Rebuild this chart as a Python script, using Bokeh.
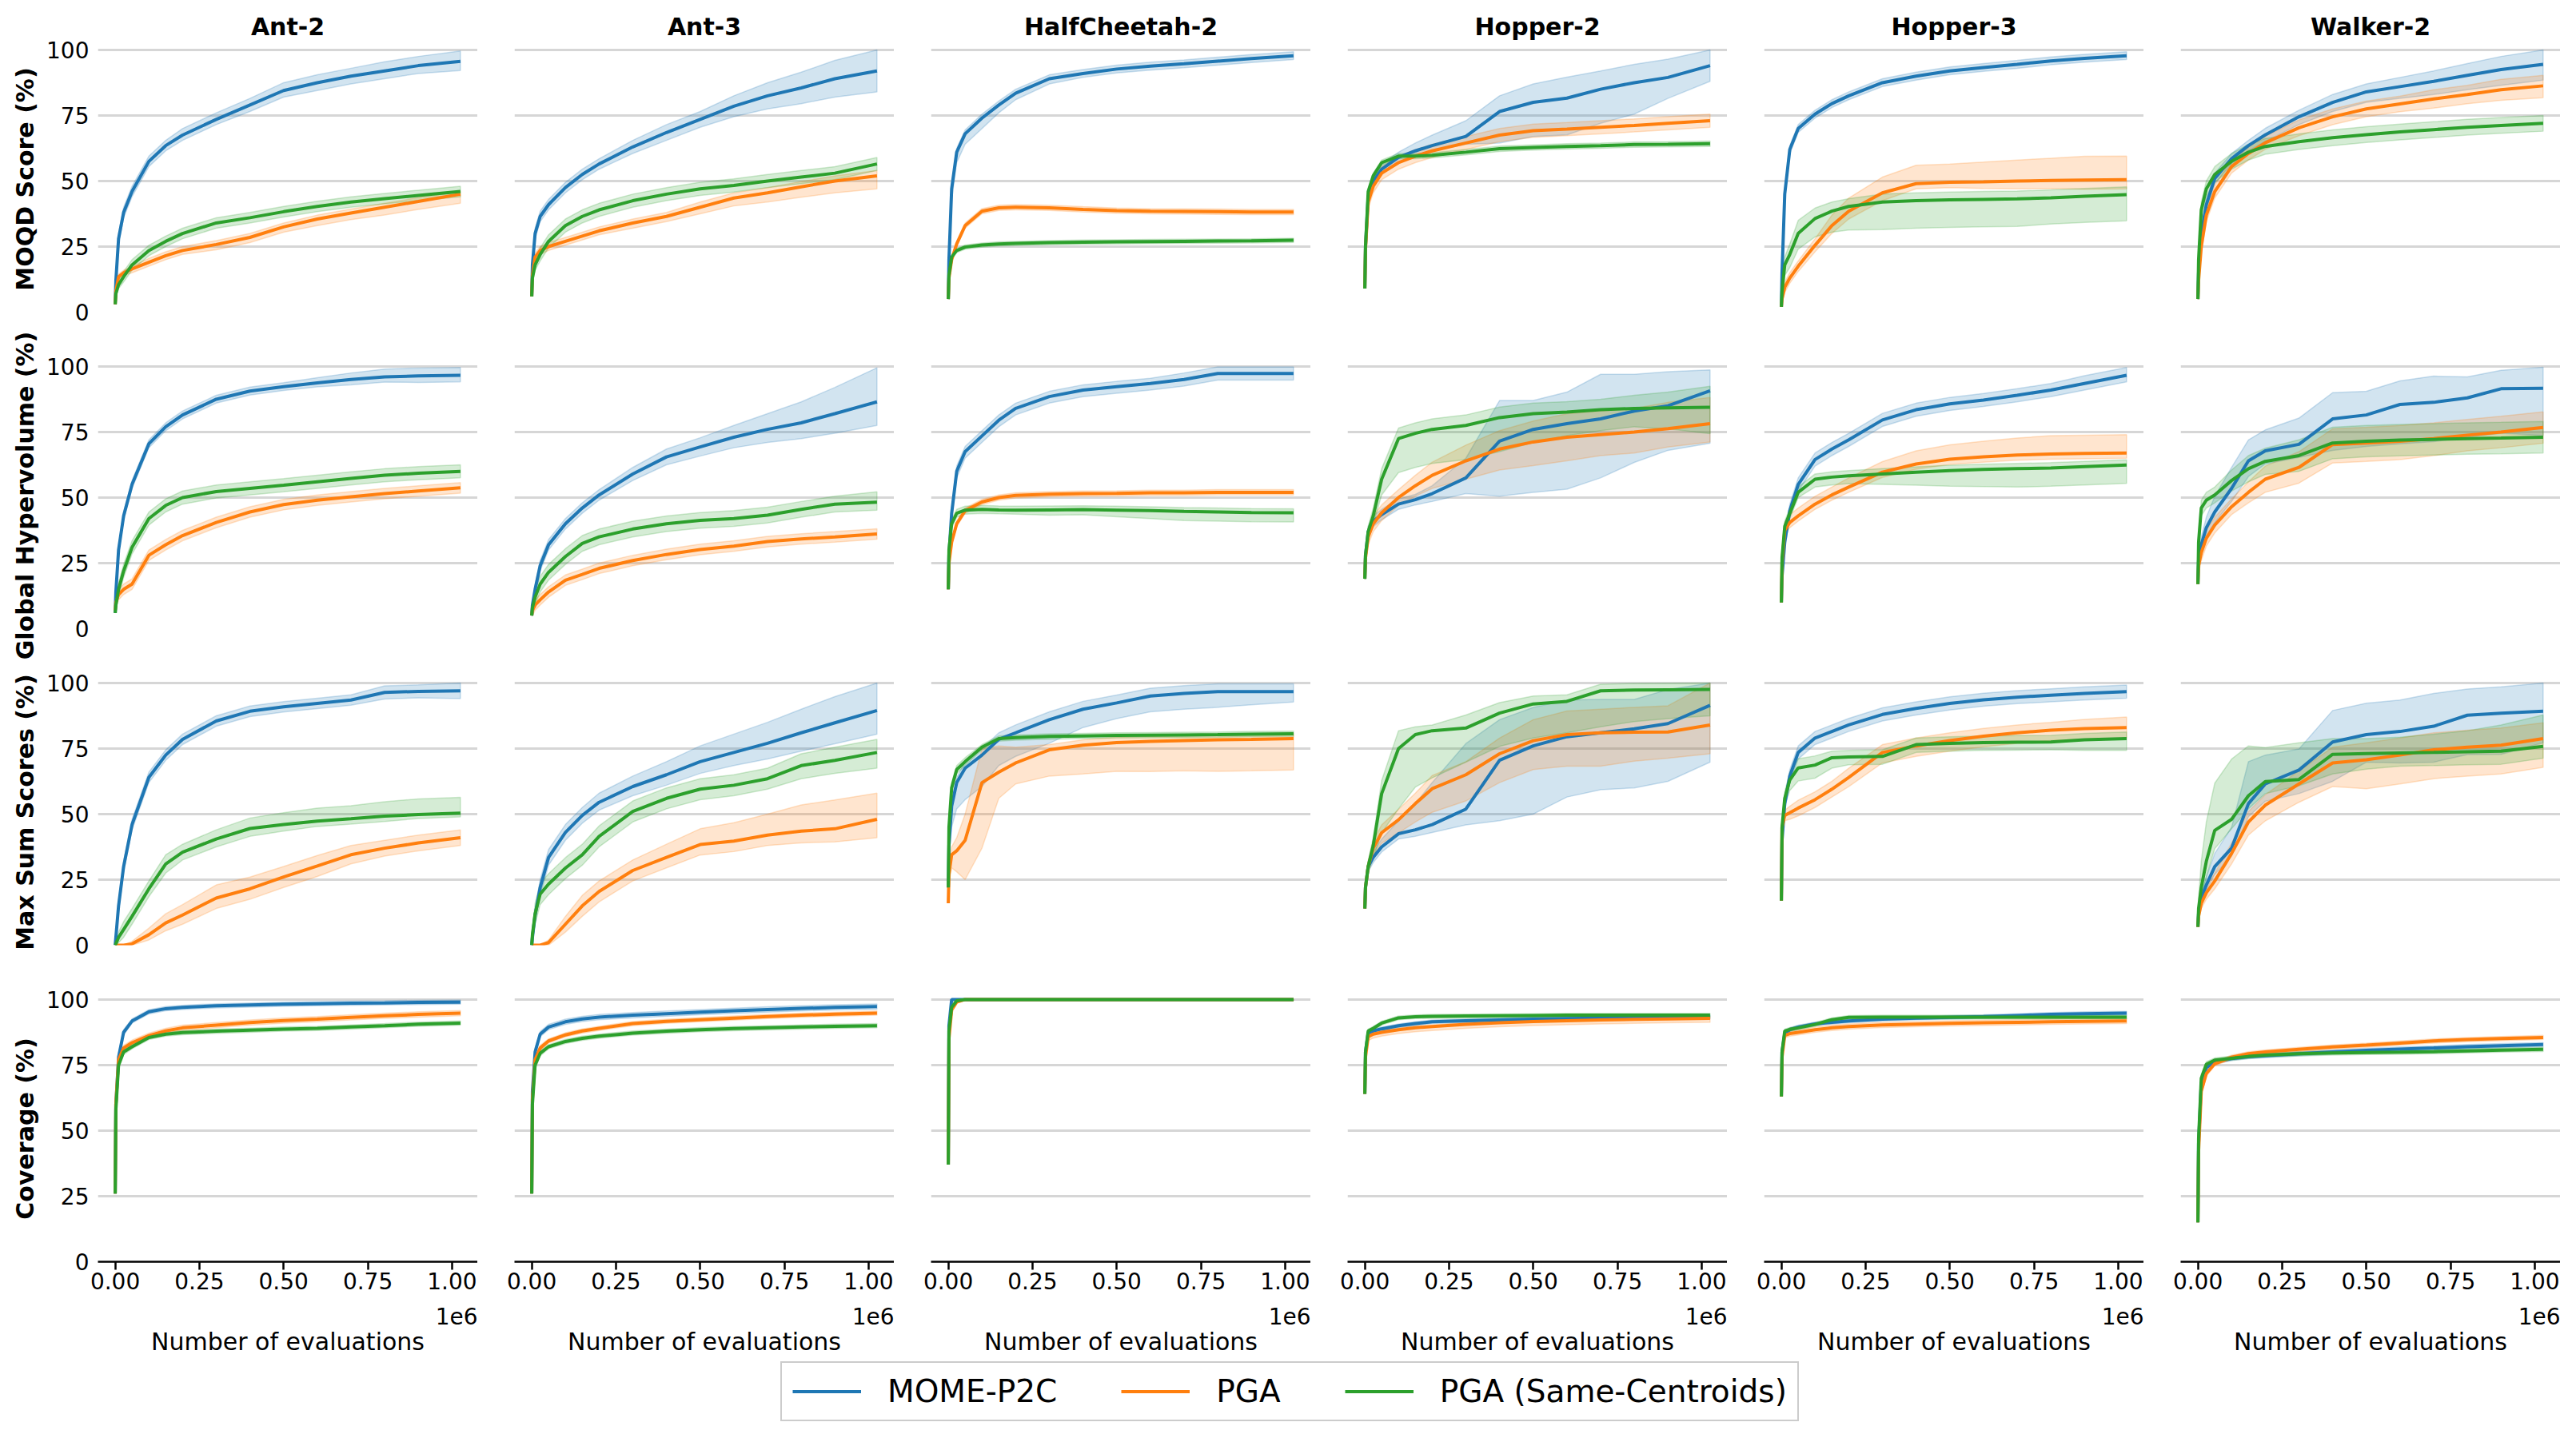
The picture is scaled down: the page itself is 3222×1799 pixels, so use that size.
import math
from bokeh.plotting import figure
from bokeh.models import Range1d, FixedTicker, Label, Legend, LegendItem
from bokeh.layouts import column, row
from bokeh.embed import file_html
from bokeh.resources import INLINE

# ---------------- data ----------------
X = [0, 2000, 10000, 25000, 50000, 100000, 150000, 200000, 300000, 400000,
     500000, 600000, 700000, 800000, 900000, 1025000]

ENVS = ["Ant-2", "Ant-3", "HalfCheetah-2", "Hopper-2", "Hopper-3", "Walker-2"]
ENV_KEYS = ["ANT2", "ANT3", "HC2", "HOP2", "HOP3", "WALK2"]
METRIC_LABELS = ["MOQD Score (%)", "Global Hypervolume (%)", "Max Sum Scores (%)", "Coverage (%)"]
METRIC_KEYS = ["MOQD", "GHV", "MSS", "COV"]
METHODS = ["MOME-P2C", "PGA", "PGA (Same-Centroids)"]
METHOD_KEYS = ["P2C", "PGA", "PGASC"]
COLORS = ["#1f77b4", "#ff7f0e", "#2ca02c"]
Y_TICKS = [0, 25, 50, 75, 100]
X_TICKS = [0, 250000, 500000, 750000, 1000000]
X_TICK_LABELS = ["0.00", "0.25", "0.50", "0.75", "1.00"]
X_LABEL = "Number of evaluations"
X_OFFSET_TEXT = "1e6"

# ===== MOQD Score =====
MOQD_ANT2_P2C = [3, 12, 28, 38, 46, 57.5, 63.5, 67.5, 73.5, 79, 84.5, 87.5, 90, 92, 94, 95.6]
MOQD_ANT2_P2C_LO = [0, 1, 2, 2, 2, 2, 2, 2, 2, 2.5, 2.5, 3, 3, 3, 3, 3.5]
MOQD_ANT2_P2C_HI = [0, 1, 2, 2, 2, 2, 2, 2.5, 2.5, 2.5, 3, 3, 3, 3.5, 3.5, 4]
MOQD_ANT2_PGA = [3, 8, 13.5, 15, 16.5, 19, 21.5, 23.5, 25.8, 28.5, 32.5, 35.5, 37.8, 40, 42.2, 45]
MOQD_ANT2_PGA_LO = [0, 1, 1, 1, 1.5, 1.5, 1.5, 1.5, 2, 2, 2, 2.5, 2.5, 3, 3, 3.5]
MOQD_ANT2_PGA_HI = [0, 1, 1, 1, 1, 1.5, 1.5, 1.5, 1.5, 1.5, 1.5, 1.5, 1.5, 1.5, 1.5, 1]
MOQD_ANT2_PGASC = [3, 7, 10.5, 13.5, 18, 23.5, 27, 30, 34, 36, 38.3, 40.3, 42, 43.3, 44.5, 46]
MOQD_ANT2_PGASC_LO = [0, 1, 1.5, 2, 2, 2, 2, 2, 2, 2, 2, 2, 2, 2, 2, 2]
MOQD_ANT2_PGASC_HI = [0, 1, 1.5, 2, 2, 2, 2, 2, 2, 2, 2, 2, 2, 2, 2, 2]

MOQD_ANT3_P2C = [6, 18, 30, 36.5, 41, 47.5, 52.5, 56.5, 63, 68.5, 73.5, 78.5, 82.5, 85.5, 89, 92]
MOQD_ANT3_P2C_LO = [0, 1.5, 2, 2, 2, 2, 2, 2, 2.5, 3, 3, 4, 5, 6, 7, 8]
MOQD_ANT3_P2C_HI = [0, 1.5, 2, 2, 2, 2, 2, 2, 2.5, 3, 3, 4, 5, 6, 7, 8]
MOQD_ANT3_PGA = [6, 14, 21, 23.5, 25, 27, 29, 31, 34, 36.5, 40, 43.5, 45.5, 47.8, 50, 52]
MOQD_ANT3_PGA_LO = [0, 1, 1.5, 1.5, 1.5, 1.5, 1.5, 1.5, 2, 2, 2.5, 3, 3.5, 4, 4.5, 5]
MOQD_ANT3_PGA_HI = [0, 1, 1.5, 1.5, 1.5, 1.5, 1.5, 1.5, 1.5, 1.5, 2, 2, 2, 2, 2, 2]
MOQD_ANT3_PGASC = [6, 13, 18, 22, 27, 33, 36.5, 39, 42.5, 45, 47, 48.3, 50, 51.5, 53, 56.5]
MOQD_ANT3_PGASC_LO = [0, 1.5, 2, 2.5, 2.5, 2.5, 2.5, 2.5, 2.5, 2.5, 2.5, 2.5, 2.5, 2.5, 2.5, 2.5]
MOQD_ANT3_PGASC_HI = [0, 1.5, 2, 2.5, 2.5, 2.5, 2.5, 2.5, 2.5, 2.5, 2.5, 2.5, 2.5, 2.5, 2.5, 2.5]

MOQD_HC2_P2C = [5, 20, 47, 61, 68, 74, 79, 83.5, 89, 91, 92.7, 93.8, 94.7, 95.7, 96.7, 97.8]
MOQD_HC2_P2C_LO = [0, 2, 4, 4, 4, 4, 3, 2.5, 2, 1.5, 1.5, 1.5, 1.5, 1.5, 1.5, 1.5]
MOQD_HC2_P2C_HI = [0, 1, 1.5, 1.5, 1.5, 1.5, 1.5, 1.5, 1.5, 1.5, 1.5, 1.5, 1.5, 1.5, 1.5, 1.5]
MOQD_HC2_PGA = [5, 13, 20, 26, 33, 38.5, 39.8, 40, 39.8, 39.2, 38.7, 38.5, 38.4, 38.3, 38.2, 38.2]
MOQD_HC2_PGA_LO = [0, 1, 1, 1, 1, 1, 1, 1, 1, 1, 1, 1, 1, 1, 1, 1]
MOQD_HC2_PGA_HI = [0, 1, 1, 1, 1, 1, 1, 1, 1, 1, 1, 1, 1, 1, 1, 1]
MOQD_HC2_PGASC = [5, 14, 21, 23.5, 24.8, 25.6, 26, 26.2, 26.5, 26.7, 26.8, 26.9, 27, 27.1, 27.2, 27.4]
MOQD_HC2_PGASC_LO = [0, 0.8, 0.8, 0.8, 0.8, 0.8, 0.8, 0.8, 0.8, 0.8, 0.8, 0.8, 0.8, 0.8, 0.8, 0.8]
MOQD_HC2_PGASC_HI = [0, 0.8, 0.8, 0.8, 0.8, 0.8, 0.8, 0.8, 0.8, 0.8, 0.8, 0.8, 0.8, 0.8, 0.8, 0.8]

MOQD_HOP2_P2C = [9, 25, 44, 50, 54.5, 59, 61.5, 63.5, 67, 76.5, 80, 81.6, 85, 87.5, 89.5, 94]
MOQD_HOP2_P2C_LO = [0, 2, 2, 2, 2, 2, 2, 2, 3, 12, 13, 14, 13, 12, 8, 6]
MOQD_HOP2_P2C_HI = [0, 2, 2, 2, 2, 2, 3, 4, 6, 6, 7, 8, 7, 7, 7, 6]
MOQD_HOP2_PGA = [9, 24, 42, 48, 53, 57, 59.5, 61.5, 64.5, 67.5, 69.2, 69.8, 70.5, 71.2, 72, 73]
MOQD_HOP2_PGA_LO = [0, 2, 2.5, 2.5, 2.5, 2.5, 2.5, 2.5, 2.5, 2.5, 2.5, 2.5, 2.5, 2.5, 2.5, 2.5]
MOQD_HOP2_PGA_HI = [0, 2, 2.5, 2.5, 2.5, 2.5, 2.5, 2.5, 2.5, 2.5, 2.5, 2.5, 2.5, 2.5, 2.5, 2.5]
MOQD_HOP2_PGASC = [9, 25, 46, 52, 57, 59.5, 59.5, 59.8, 61, 62.3, 62.8, 63.2, 63.5, 63.9, 64, 64.2]
MOQD_HOP2_PGASC_LO = [0, 1, 1, 1, 1, 1, 1, 1, 1, 1, 1, 1, 1, 1, 1, 1]
MOQD_HOP2_PGASC_HI = [0, 1, 1, 1, 1, 1, 1, 1, 1, 1, 1, 1, 1, 1, 1, 1]

MOQD_HOP3_P2C = [2, 15, 45, 62, 70, 75.5, 79.5, 82.5, 87.5, 90, 92, 93.3, 94.5, 95.8, 96.8, 97.8]
MOQD_HOP3_P2C_LO = [0, 1.5, 1.5, 1.5, 1.5, 1.5, 1.5, 1.5, 1.5, 1.5, 1.5, 1.5, 1.5, 1.5, 1.5, 1.5]
MOQD_HOP3_P2C_HI = [0, 1.5, 1.5, 1.5, 1.5, 1.5, 1.5, 1.5, 1.5, 1.5, 1.5, 1.5, 1.5, 1.5, 1.5, 1.5]
MOQD_HOP3_PGA = [2, 5, 9.5, 13, 17.5, 25.5, 33, 38.5, 45.5, 49, 49.5, 49.7, 50, 50.2, 50.4, 50.5]
MOQD_HOP3_PGA_LO = [0, 1, 2, 2, 2, 2.5, 3, 3, 3, 2, 2, 2.5, 3, 3, 3.5, 3.5]
MOQD_HOP3_PGA_HI = [0, 1, 2, 2, 2, 2.5, 4, 5, 6, 7, 7, 7.5, 8, 8.5, 9, 9]
MOQD_HOP3_PGASC = [2, 8, 18, 22, 30, 35.7, 38.5, 40.3, 42, 42.5, 42.8, 43, 43.2, 43.6, 44.2, 44.8]
MOQD_HOP3_PGASC_LO = [0, 2, 4, 5, 6, 7, 8, 9, 10.5, 10.5, 10.5, 10.5, 10.5, 10, 10, 10]
MOQD_HOP3_PGASC_HI = [0, 2, 3, 4, 5, 4, 3.5, 3, 3, 3, 3, 3, 3, 3, 3, 3]

MOQD_WALK2_P2C = [5, 15, 30, 41, 51, 58.5, 63.5, 67.6, 74.5, 80, 84, 86, 88, 90.3, 92.5, 94.5]
MOQD_WALK2_P2C_LO = [0, 2, 2, 2, 2, 2, 2, 2.5, 3, 3.5, 4, 4.5, 5, 5.5, 6, 6]
MOQD_WALK2_P2C_HI = [0, 2, 2, 2, 2, 2, 2, 2.5, 2.5, 3, 3, 3.5, 4, 4.5, 5, 5.5]
MOQD_WALK2_PGA = [5, 12, 25, 37, 46, 55.5, 60.5, 64.6, 70.3, 74.5, 77.5, 79.4, 81.3, 83, 84.8, 86.3]
MOQD_WALK2_PGA_LO = [0, 2, 2.5, 2.5, 2.5, 2.5, 2.5, 2.5, 3, 3, 3, 3, 3.5, 3.5, 4, 4.5]
MOQD_WALK2_PGA_HI = [0, 2, 2.5, 2.5, 2.5, 2.5, 2.5, 2.5, 3, 3, 3, 3, 3.5, 3.5, 4, 4]
MOQD_WALK2_PGASC = [5, 20, 39, 47, 52.5, 57.5, 61, 63.2, 65, 66.5, 67.7, 68.7, 69.6, 70.5, 71.2, 72]
MOQD_WALK2_PGASC_LO = [0, 3, 3, 3, 3, 3, 3, 3, 3, 3, 3, 3, 3, 3, 3, 3]
MOQD_WALK2_PGASC_HI = [0, 3, 3, 3, 3, 3, 3, 3, 3, 3, 3, 3, 3, 3, 3, 3]

# ===== Global Hypervolume =====
GHV_ANT2_P2C = [6, 14, 30, 43, 55, 70.5, 77, 81.5, 87.5, 90.6, 92.3, 93.7, 95, 96, 96.4, 96.6]
GHV_ANT2_P2C_LO = [0, 1.5, 1.5, 1.5, 1.5, 1.5, 1.5, 1.5, 1.5, 1.5, 1.5, 1.5, 2, 2, 2.5, 2.5]
GHV_ANT2_P2C_HI = [0, 1.5, 1.5, 1.5, 1.5, 1.5, 1.5, 1.5, 1.5, 1.5, 1.5, 2, 2.5, 3, 3, 3]
GHV_ANT2_PGA = [7, 10, 13, 15, 17, 28, 32, 35.5, 40.5, 44.5, 47.3, 49, 50.3, 51.5, 52.5, 53.7]
GHV_ANT2_PGA_LO = [0, 2, 2, 2, 2, 2, 2, 2, 2, 2, 2, 2, 2, 2, 2, 2]
GHV_ANT2_PGA_HI = [0, 2, 2, 2, 2, 2, 2, 2, 2, 2, 2, 2, 2, 2, 2, 2]
GHV_ANT2_PGASC = [6, 9, 15, 22, 31, 42, 47, 50, 52.3, 53.5, 54.7, 56, 57.3, 58.5, 59.3, 60]
GHV_ANT2_PGASC_LO = [0, 2.5, 2.5, 2.5, 2.5, 2.5, 2.5, 2.5, 2.5, 2.5, 2.5, 2.5, 2.5, 2.5, 2.5, 2.5]
GHV_ANT2_PGASC_HI = [0, 2.5, 2.5, 2.5, 2.5, 2.5, 2.5, 2.5, 2.5, 2.5, 2.5, 2.5, 2.5, 2.5, 2.5, 2.5]

GHV_ANT3_P2C = [5, 9, 15, 24, 32, 40, 46, 51, 59, 65.5, 69.3, 73, 76, 78.5, 82, 86.5]
GHV_ANT3_P2C_LO = [0, 1, 1.5, 2, 2, 2, 2, 2, 2.5, 3, 3.5, 4, 5, 6, 7.5, 9]
GHV_ANT3_P2C_HI = [0, 1, 1.5, 2, 2, 2, 2, 2, 2.5, 3, 3.5, 4.5, 6, 8, 10, 13]
GHV_ANT3_PGA = [5, 7, 9, 11, 14, 18.5, 20.7, 23, 26, 28.3, 30.2, 31.5, 33.2, 34.2, 35, 36.1]
GHV_ANT3_PGA_LO = [0, 2, 2, 2, 2, 2, 2, 2, 2, 2, 2, 2, 2, 2, 2, 2]
GHV_ANT3_PGA_HI = [0, 2, 2, 2, 2, 2, 2, 2, 2, 2, 2, 2, 2, 2, 2, 2]
GHV_ANT3_PGASC = [5, 8, 12, 17, 21.5, 27.5, 32.5, 35, 38, 40, 41.3, 42, 43.3, 45.5, 47.5, 48.2]
GHV_ANT3_PGASC_LO = [0, 3, 3, 3, 3, 3, 3, 3, 3, 3, 3, 3, 3, 3, 3, 3]
GHV_ANT3_PGASC_HI = [0, 3, 3, 3, 3, 3, 3, 3, 3, 3, 3, 3, 3, 3, 3, 4]

GHV_HC2_P2C = [15, 28, 44, 60, 67.5, 73.5, 79.5, 84, 88.5, 91, 92.3, 93.5, 95, 97.3, 97.3, 97.3]
GHV_HC2_P2C_LO = [0, 2.5, 2.5, 2.5, 2.5, 2.5, 2.5, 2.5, 2.5, 2.5, 2.5, 2.5, 2.5, 2.5, 2.5, 2.5]
GHV_HC2_P2C_HI = [0, 2, 2, 2, 2, 2, 2, 2, 2, 2, 2, 2, 2.5, 2.5, 2.5, 2.5]
GHV_HC2_PGA = [15, 25, 33, 40, 45, 48.3, 50, 50.8, 51.3, 51.5, 51.6, 51.8, 51.8, 52, 52, 52]
GHV_HC2_PGA_LO = [0, 1, 1, 1, 1, 1, 1, 1, 1, 1, 1, 1, 1, 1, 1, 1]
GHV_HC2_PGA_HI = [0, 1, 1, 1, 1, 1, 1, 1, 1, 1, 1, 1, 1, 1, 1, 1]
GHV_HC2_PGASC = [15, 30, 40, 44, 45.2, 45.5, 45.3, 45.2, 45.3, 45.4, 45.2, 45, 44.7, 44.5, 44.3, 44.2]
GHV_HC2_PGASC_LO = [0, 1.5, 1.5, 1.5, 1.5, 1.5, 1.5, 1.5, 2, 2, 2.5, 3, 3.5, 3.5, 3.5, 3.5]
GHV_HC2_PGASC_HI = [0, 1.5, 1.5, 1.5, 1.5, 1.5, 1.5, 1.5, 1.5, 1.5, 1.5, 1.5, 1.5, 1.5, 1.5, 1.5]

GHV_HOP2_P2C = [19, 28, 37, 41, 43.5, 47.5, 49.2, 51.5, 57.5, 71.5, 76, 78.2, 80, 83, 85, 90.7]
GHV_HOP2_P2C_LO = [0, 2, 2, 2, 2, 2, 2, 3, 6, 21, 24, 25, 22.5, 19.6, 17, 20]
GHV_HOP2_P2C_HI = [0, 2, 2, 2, 2, 2, 2, 3, 7.5, 15.5, 11, 12, 17, 14, 13, 8]
GHV_HOP2_PGA = [19, 27, 35, 40, 44.2, 50, 54.5, 58.5, 64, 68.5, 71.2, 73, 74, 75, 76.3, 78.2]
GHV_HOP2_PGA_LO = [0, 3, 3, 3, 3, 3, 4, 5, 7, 8, 9, 9, 8, 8, 7, 7]
GHV_HOP2_PGA_HI = [0, 3, 3, 3, 3, 3, 4, 5, 6, 7, 8, 9, 9, 9, 10, 10]
GHV_HOP2_PGASC = [19, 28, 37, 43, 57, 72.5, 74.5, 76, 77.5, 80.5, 82, 82.6, 83.5, 84, 84.2, 84.4]
GHV_HOP2_PGASC_LO = [0, 2, 2, 3, 6, 13, 13, 13, 13, 13, 11, 9, 8, 7, 8, 10]
GHV_HOP2_PGASC_HI = [0, 2, 2, 3, 4, 4, 4, 4, 4, 4, 4, 4, 4, 5, 6, 8]

GHV_HOP3_P2C = [10, 20, 33, 45, 55, 64.5, 68.5, 72, 79.6, 83.5, 85.7, 87.2, 89, 91, 93.5, 96.6]
GHV_HOP3_P2C_LO = [0, 2.5, 2.5, 2.5, 2.5, 2.5, 2.5, 2.5, 2.5, 2.5, 2.5, 2.5, 2.5, 2.5, 2.5, 2.5]
GHV_HOP3_P2C_HI = [0, 2.5, 2.5, 2.5, 2.5, 2.5, 2.5, 2.5, 2.5, 2.5, 2.5, 2.5, 2.5, 2.5, 3, 3]
GHV_HOP3_PGA = [10, 25, 37.5, 40.5, 43, 47.5, 51, 54, 59.7, 62.8, 64.6, 65.5, 66.2, 66.6, 66.8, 67]
GHV_HOP3_PGA_LO = [0, 2, 2, 2, 2, 2, 2, 2, 2, 2, 2, 2, 2, 2, 2, 2]
GHV_HOP3_PGA_HI = [0, 2, 3, 3, 3, 3, 3, 3.5, 4, 5, 5.5, 6, 6.5, 7, 7, 7]
GHV_HOP3_PGASC = [10, 27, 39, 44, 52, 57, 57.8, 58.3, 59, 59.7, 60.3, 60.7, 61, 61.3, 61.8, 62.4]
GHV_HOP3_PGASC_LO = [0, 2, 2, 2, 2, 3, 3, 3, 4, 5, 6, 6.5, 7, 7, 7, 7]
GHV_HOP3_PGASC_HI = [0, 2, 2, 2, 2, 2, 2, 2, 2, 2, 2, 2, 2, 2, 2, 2]

GHV_WALK2_P2C = [17, 26, 32, 38.5, 44.5, 53.5, 64, 67.8, 70.3, 80, 81.5, 85.5, 86.3, 88, 91.5, 91.7]
GHV_WALK2_P2C_LO = [0, 3, 3, 3, 4, 5, 6, 5, 5, 12, 12, 15, 15, 15, 17, 18]
GHV_WALK2_P2C_HI = [0, 3, 3, 4, 6, 8, 8, 8, 10, 10, 9, 9, 10, 8, 7, 8]
GHV_WALK2_PGA = [17, 24, 29, 34.5, 39.5, 46.5, 52, 57, 61.5, 70.2, 70.8, 71.5, 72.5, 73.8, 75, 76.7]
GHV_WALK2_PGA_LO = [0, 3, 3, 3, 3, 3, 4, 5, 6, 7, 7, 7, 6.5, 6, 6, 6]
GHV_WALK2_PGA_HI = [0, 3, 3, 3, 3, 3, 4, 5, 6, 6, 6, 6, 6, 6, 6, 6]
GHV_WALK2_PGASC = [17, 33, 46, 49, 51, 56.5, 61, 63.8, 66, 70.8, 71.5, 71.9, 72.2, 72.5, 72.7, 73]
GHV_WALK2_PGASC_LO = [0, 3, 3, 3, 3, 4, 5, 5, 6, 6, 6, 6, 6, 6, 6, 6]
GHV_WALK2_PGASC_HI = [0, 3, 3, 3, 3, 4, 5, 5, 6, 6, 6, 6, 6, 6, 6, 6]

# ===== Max Sum Scores =====
MSS_ANT2_P2C = [0, 3, 15, 30, 46, 64, 72.5, 78.5, 85.5, 89.2, 90.9, 92.2, 93.5, 96.4, 96.8, 97]
MSS_ANT2_P2C_LO = [0, 1, 2, 2, 2, 2, 2, 2, 2, 2, 2, 2, 2, 2.5, 2.5, 3]
MSS_ANT2_P2C_HI = [0, 1, 2, 2, 2, 2, 2, 2, 2, 2, 2, 2, 2, 2.5, 2.5, 3]
MSS_ANT2_PGA = [0, 0, 0, 0, 0.5, 4, 8.5, 11.5, 18, 21.5, 26, 30.2, 34.5, 37, 39, 41]
MSS_ANT2_PGA_LO = [0, 0, 0, 0, 0.5, 2, 3, 3.5, 4, 4, 4, 4, 3.5, 3, 3, 3]
MSS_ANT2_PGA_HI = [0, 0, 0, 0, 1, 2.5, 3.5, 4, 5, 4.5, 4, 4, 3.5, 3, 3, 3]
MSS_ANT2_PGASC = [0, 0.5, 3, 6, 11, 21.5, 31, 35.5, 40.5, 44.5, 46, 47.3, 48.2, 49.2, 49.8, 50.4]
MSS_ANT2_PGASC_LO = [0, 0.5, 2, 3, 3, 3, 3.5, 3, 3, 3, 2.5, 2, 2, 2, 1.5, 1.5]
MSS_ANT2_PGASC_HI = [0, 0.5, 2, 3, 3, 3, 3.5, 3, 3.5, 4, 4.5, 5, 5, 5.5, 6, 6]

MSS_ANT3_P2C = [0, 3, 11.5, 22, 33.5, 43, 49.5, 54.5, 60.5, 65, 70, 73.5, 77, 81, 84.8, 89.5]
MSS_ANT3_P2C_LO = [0, 1, 2, 3, 3, 3, 3, 3, 3.5, 4, 4.5, 5, 6, 7, 8, 9]
MSS_ANT3_P2C_HI = [0, 1, 2, 3, 3, 3, 3, 3.5, 4, 5, 6, 7, 8, 9, 10, 10.5]
MSS_ANT3_PGA = [0, 0, 0, 0, 1, 8, 15, 20.5, 28.5, 33.5, 38.4, 39.7, 42, 43.5, 44.4, 48]
MSS_ANT3_PGA_LO = [0, 0, 0, 0, 1, 3, 4, 4, 4, 4, 4, 4, 4, 4.5, 5, 7]
MSS_ANT3_PGA_HI = [0, 0, 0, 0, 1, 3, 4, 4, 4, 5, 6, 7, 8, 10, 11, 10]
MSS_ANT3_PGASC = [0, 4, 12, 19.5, 23.3, 29.4, 34.5, 41.5, 51, 56, 59.5, 61, 63.5, 68.5, 70.5, 73.5]
MSS_ANT3_PGASC_LO = [0, 2, 4, 4, 4, 4, 4, 4, 4, 4, 4, 4, 4, 5, 5, 6]
MSS_ANT3_PGASC_HI = [0, 2, 4, 4, 4, 4, 4, 4, 4, 4, 4, 4, 4, 4.5, 5, 5]

MSS_HC2_P2C = [22, 38, 53, 62, 67.5, 72.5, 78.5, 81, 86, 90, 92.4, 95, 96, 96.7, 96.7, 96.7]
MSS_HC2_P2C_LO = [0, 4, 8, 10, 12, 12, 10, 9, 9, 7, 6, 6, 6, 6, 5, 4]
MSS_HC2_P2C_HI = [0, 2, 2, 2, 2.5, 2.5, 2.5, 3, 3, 3, 3, 3, 3, 3, 3, 3]
MSS_HC2_PGA = [16, 27, 34.5, 36, 40, 62, 66, 69.5, 74.5, 76.3, 77.3, 77.7, 78, 78.3, 78.5, 78.8]
MSS_HC2_PGA_LO = [0, 3, 5, 8, 15, 25, 10, 8, 10, 11, 11, 11.5, 11.5, 12, 12, 12]
MSS_HC2_PGA_HI = [0, 2, 3, 5, 10, 13, 10, 6, 2, 2, 2, 2, 2, 2, 2, 2]
MSS_HC2_PGASC = [22, 45, 60, 67, 70, 75.5, 78.8, 79.2, 79.6, 79.8, 80, 80.1, 80.2, 80.3, 80.5, 80.6]
MSS_HC2_PGASC_LO = [0, 2, 2, 1.5, 1.5, 1, 1, 1, 1, 1, 1, 1, 1, 1, 1, 1]
MSS_HC2_PGASC_HI = [0, 2, 2, 1.5, 1.5, 1, 1, 1, 1, 1, 1, 1, 1, 1, 1, 1]

MSS_HOP2_P2C = [14, 22, 30, 33.5, 37.5, 42.5, 44, 46, 51.9, 70.5, 76, 79.5, 81, 82.5, 84.5, 91.5]
MSS_HOP2_P2C_LO = [0, 1, 2, 2, 2, 2, 2.5, 3, 6, 23, 26, 23, 21.7, 22.5, 22, 21.7]
MSS_HOP2_P2C_HI = [0, 1, 2, 2, 3, 5, 10, 16, 25, 15.5, 14.7, 14, 12.7, 11.2, 13, 8.5]
MSS_HOP2_PGA = [14, 22, 30, 37, 42.9, 47.8, 54, 59.7, 65, 73, 78, 80.3, 81, 81.2, 81.3, 84]
MSS_HOP2_PGA_LO = [0, 1, 2, 3, 4, 5, 7, 9, 10, 11, 11, 12, 12.7, 11, 10, 11]
MSS_HOP2_PGA_HI = [0, 1, 2, 3, 3, 4, 4, 5, 5, 6, 8, 9, 9, 9.5, 10, 16]
MSS_HOP2_PGASC = [14, 22, 30, 38, 57.8, 75, 80.3, 81.8, 82.8, 88.5, 92, 93, 97, 97.3, 97.4, 97.5]
MSS_HOP2_PGASC_LO = [0, 1, 2, 5, 15, 23, 20, 18, 13, 12.7, 13, 12, 13.7, 12, 11, 10]
MSS_HOP2_PGASC_HI = [0, 1, 2, 3, 5, 6.8, 3, 2.2, 5, 4, 3, 2.5, 2.5, 2.5, 2.5, 2.5]

MSS_HOP3_P2C = [17, 40, 54, 64.5, 73.5, 79, 81.5, 84, 88, 90.3, 92.2, 93.6, 94.6, 95.3, 96, 96.7]
MSS_HOP3_P2C_LO = [0, 2.5, 2.5, 2.5, 2.5, 2.5, 2.5, 2.5, 2.5, 2.5, 2.5, 2.5, 2.5, 2.5, 2.5, 2.5]
MSS_HOP3_P2C_HI = [0, 2.5, 2.5, 2.5, 2.5, 2.5, 2.5, 2.5, 2.5, 2.5, 2.5, 2.5, 2.5, 2.5, 2.5, 2.5]
MSS_HOP3_PGA = [17, 45, 49.5, 50.5, 52.3, 55.5, 59.5, 64, 73.5, 76, 78, 79.7, 81, 82, 82.6, 83]
MSS_HOP3_PGA_LO = [0, 2, 2, 2.5, 3, 3, 3, 3.5, 4, 4, 4, 4, 4, 4, 4, 4]
MSS_HOP3_PGA_HI = [0, 2, 2, 2.5, 3, 3, 3, 3.5, 3, 3, 3, 3, 3, 3, 3.5, 4]
MSS_HOP3_PGASC = [17, 45, 56, 63, 67.6, 68.7, 71.5, 71.8, 72, 76.5, 77, 77.3, 77.4, 77.5, 78.3, 78.8]
MSS_HOP3_PGASC_LO = [0, 2, 3, 4, 5, 5, 4, 3, 3, 3, 3, 3, 3, 3, 4, 4.5]
MSS_HOP3_PGASC_HI = [0, 2, 2.5, 3, 3.5, 3.5, 2.5, 2.5, 2.5, 2.5, 2.5, 2.5, 2.5, 2.5, 2.5, 2.5]

MSS_WALK2_P2C = [7, 12, 18, 23, 30, 37, 54, 61.5, 66.8, 77.5, 80.3, 81.5, 83.5, 87.7, 88.5, 89.2]
MSS_WALK2_P2C_LO = [0, 1.5, 2, 2, 3, 3, 5, 6.6, 9, 15, 10.5, 12, 13.7, 15, 15.7, 12]
MSS_WALK2_P2C_HI = [0, 1.5, 2, 3, 5, 8, 16, 11, 8, 12, 12, 12, 12.5, 10, 10, 10.8]
MSS_WALK2_PGA = [7, 11, 16, 20, 24.5, 35, 47, 53.4, 61.5, 69.5, 70.7, 72.5, 74.5, 75.5, 76.3, 78.8]
MSS_WALK2_PGA_LO = [0, 1.5, 2, 2.5, 3, 4, 5, 6, 7, 9, 11, 11, 11, 11, 11, 11]
MSS_WALK2_PGA_HI = [0, 1.5, 2, 2.5, 3, 4, 4, 4, 5, 6, 6.5, 6.5, 6.5, 6.5, 6.5, 6]
MSS_WALK2_PGASC = [7, 14, 22, 32, 43.8, 48, 57, 62.4, 63.2, 72.8, 73.1, 73.3, 73.5, 73.8, 74, 75.8]
MSS_WALK2_PGASC_LO = [0, 2, 4, 6, 7, 3.6, 5, 4.6, 2.4, 7.5, 6, 5, 5, 5, 5, 4.5]
MSS_WALK2_PGASC_HI = [0, 4, 10, 15, 18, 23, 19, 13, 14, 6, 5.7, 6, 7, 8, 10, 12]

# ===== Coverage =====
COV_ANT2_P2C = [26, 60, 78, 87.5, 91.8, 95.3, 96.5, 97, 97.6, 97.9, 98.2, 98.4, 98.6, 98.7, 98.9, 99]
COV_ANT2_P2C_LO = [0, 2, 1.5, 1, 0.8, 0.8, 0.8, 0.8, 0.8, 0.8, 0.8, 0.8, 0.8, 0.8, 0.8, 0.8]
COV_ANT2_P2C_HI = [0, 2, 1.5, 1, 0.8, 0.8, 0.8, 0.8, 0.8, 0.8, 0.8, 0.8, 0.8, 0.8, 0.8, 0.8]
COV_ANT2_PGA = [26, 60, 77, 81.5, 83.5, 86.2, 88, 89.2, 90.2, 91.2, 92, 92.5, 93.2, 93.8, 94.3, 94.8]
COV_ANT2_PGA_LO = [0, 2, 1.5, 1, 1, 1, 1, 1, 1, 1, 1, 1, 1, 1, 1, 1]
COV_ANT2_PGA_HI = [0, 2, 1.5, 1, 1, 1, 1, 1, 1, 1, 1, 1, 1, 1, 1, 1]
COV_ANT2_PGASC = [26, 58, 75, 80, 82, 85.5, 86.8, 87.4, 87.9, 88.3, 88.7, 89, 89.5, 90, 90.6, 91]
COV_ANT2_PGASC_LO = [0, 2, 1.5, 1, 0.8, 0.8, 0.8, 0.8, 0.8, 0.8, 0.8, 0.8, 0.8, 0.8, 0.8, 0.8]
COV_ANT2_PGASC_HI = [0, 2, 1.5, 1, 0.8, 0.8, 0.8, 0.8, 0.8, 0.8, 0.8, 0.8, 0.8, 0.8, 0.8, 0.8]

COV_ANT3_P2C = [26, 65, 80, 86.8, 89.5, 91.5, 92.6, 93.3, 94, 94.6, 95.2, 95.7, 96.2, 96.6, 97, 97.3]
COV_ANT3_P2C_LO = [0, 2, 1.5, 1, 1, 1, 1, 1, 1, 1, 1, 1, 1, 1, 1, 1]
COV_ANT3_P2C_HI = [0, 2, 1.5, 1, 1, 1, 1, 1, 1, 1, 1, 1, 1, 1, 1, 1]
COV_ANT3_PGA = [26, 62, 77, 81.5, 84.2, 86.5, 88, 89, 90.8, 91.7, 92.3, 92.9, 93.5, 94, 94.4, 94.8]
COV_ANT3_PGA_LO = [0, 2, 1.5, 1, 0.8, 0.8, 0.8, 0.8, 0.8, 0.8, 0.8, 0.8, 0.8, 0.8, 0.8, 0.8]
COV_ANT3_PGA_HI = [0, 2, 1.5, 1, 0.8, 0.8, 0.8, 0.8, 0.8, 0.8, 0.8, 0.8, 0.8, 0.8, 0.8, 0.8]
COV_ANT3_PGASC = [26, 60, 75, 79.5, 82, 84, 85.2, 86, 87.2, 87.9, 88.5, 88.9, 89.2, 89.5, 89.8, 90]
COV_ANT3_PGASC_LO = [0, 2, 1.5, 1, 0.8, 0.8, 0.8, 0.8, 0.8, 0.8, 0.8, 0.8, 0.8, 0.8, 0.8, 0.8]
COV_ANT3_PGASC_HI = [0, 2, 1.5, 1, 0.8, 0.8, 0.8, 0.8, 0.8, 0.8, 0.8, 0.8, 0.8, 0.8, 0.8, 0.8]

COV_HC2_P2C = [37, 90, 100, 100, 100, 100, 100, 100, 100, 100, 100, 100, 100, 100, 100, 100]
COV_HC2_P2C_LO = [0, 2, 0.5, 0.3, 0.3, 0.3, 0.3, 0.3, 0.3, 0.3, 0.3, 0.3, 0.3, 0.3, 0.3, 0.3]
COV_HC2_P2C_HI = [0, 2, 0, 0, 0, 0, 0, 0, 0, 0, 0, 0, 0, 0, 0, 0]
COV_HC2_PGA = [37, 85, 96, 99, 100, 100, 100, 100, 100, 100, 100, 100, 100, 100, 100, 100]
COV_HC2_PGA_LO = [0, 2, 1, 0.5, 0.3, 0.3, 0.3, 0.3, 0.3, 0.3, 0.3, 0.3, 0.3, 0.3, 0.3, 0.3]
COV_HC2_PGA_HI = [0, 2, 1, 0.5, 0, 0, 0, 0, 0, 0, 0, 0, 0, 0, 0, 0]
COV_HC2_PGASC = [37, 88, 97, 99.5, 100, 100, 100, 100, 100, 100, 100, 100, 100, 100, 100, 100]
COV_HC2_PGASC_LO = [0, 2, 1, 0.5, 0.3, 0.3, 0.3, 0.3, 0.3, 0.3, 0.3, 0.3, 0.3, 0.3, 0.3, 0.3]
COV_HC2_PGASC_HI = [0, 2, 1, 0.5, 0, 0, 0, 0, 0, 0, 0, 0, 0, 0, 0, 0]

COV_HOP2_P2C = [64, 80, 87.3, 88, 88.8, 90, 90.8, 91.5, 91.9, 92.2, 92.5, 92.7, 92.9, 93, 93.2, 93.3]
COV_HOP2_P2C_LO = [0, 1, 0.7, 0.7, 0.7, 0.7, 0.7, 0.7, 0.7, 0.7, 0.7, 0.7, 0.7, 0.7, 0.7, 0.7]
COV_HOP2_P2C_HI = [0, 1, 0.7, 0.7, 0.7, 0.7, 0.7, 0.7, 0.7, 0.7, 0.7, 0.7, 0.7, 0.7, 0.7, 0.7]
COV_HOP2_PGA = [64, 78, 85.8, 86.8, 87.5, 88.5, 89.2, 89.7, 90.5, 91.1, 91.6, 91.9, 92.2, 92.4, 92.6, 92.8]
COV_HOP2_PGA_LO = [0, 1.5, 1.5, 1.5, 1.5, 1.5, 1.5, 1.5, 1.5, 1.5, 1.5, 1.5, 1.5, 1.5, 1.5, 1.5]
COV_HOP2_PGA_HI = [0, 1, 0.7, 0.7, 0.7, 0.7, 0.7, 0.7, 0.7, 0.7, 0.7, 0.7, 0.7, 0.7, 0.7, 0.7]
COV_HOP2_PGASC = [64, 80, 88, 89, 91, 93, 93.4, 93.6, 93.7, 93.8, 93.9, 94, 94, 94, 94, 94]
COV_HOP2_PGASC_LO = [0, 1, 0.7, 0.7, 0.7, 0.7, 0.7, 0.7, 0.7, 0.7, 0.7, 0.7, 0.7, 0.7, 0.7, 0.7]
COV_HOP2_PGASC_HI = [0, 1, 0.7, 0.7, 0.7, 0.7, 0.7, 0.7, 0.7, 0.7, 0.7, 0.7, 0.7, 0.7, 0.7, 0.7]

COV_HOP3_P2C = [63, 80, 87, 88.5, 89.5, 90.7, 91.3, 91.8, 92.5, 92.9, 93.2, 93.5, 93.9, 94.3, 94.6, 94.8]
COV_HOP3_P2C_LO = [0, 1, 0.7, 0.7, 0.7, 0.7, 0.7, 0.7, 0.7, 0.7, 0.7, 0.7, 0.7, 0.7, 0.7, 0.7]
COV_HOP3_P2C_HI = [0, 1, 0.7, 0.7, 0.7, 0.7, 0.7, 0.7, 0.7, 0.7, 0.7, 0.7, 0.7, 0.7, 0.7, 0.7]
COV_HOP3_PGA = [63, 78, 86.3, 87, 87.5, 88.5, 89.2, 89.7, 90.3, 90.6, 90.9, 91.1, 91.3, 91.5, 91.7, 91.8]
COV_HOP3_PGA_LO = [0, 1, 1, 1, 1, 1, 1, 1, 1, 1, 1, 1, 1, 1, 1, 1]
COV_HOP3_PGA_HI = [0, 1, 1, 1, 1, 1, 1, 1, 1, 1, 1, 1, 1, 1, 1, 1]
COV_HOP3_PGASC = [63, 80, 88, 88.6, 89.2, 90.5, 92.3, 93.2, 93.3, 93.3, 93.3, 93.3, 93.3, 93.3, 93.3, 93.3]
COV_HOP3_PGASC_LO = [0, 1, 0.7, 0.7, 0.7, 0.7, 0.7, 0.7, 0.7, 0.7, 0.7, 0.7, 0.7, 0.7, 0.7, 0.7]
COV_HOP3_PGASC_HI = [0, 1, 0.7, 0.7, 0.7, 0.7, 0.7, 0.7, 0.7, 0.7, 0.7, 0.7, 0.7, 0.7, 0.7, 0.7]

COV_WALK2_P2C = [15, 45, 68, 74, 76.2, 77.5, 78.2, 78.6, 79.3, 80, 80.6, 81.1, 81.5, 82, 82.4, 82.8]
COV_WALK2_P2C_LO = [0, 2, 1.5, 1, 0.8, 0.8, 0.8, 0.8, 0.8, 0.8, 0.8, 0.8, 0.8, 0.8, 0.8, 0.8]
COV_WALK2_P2C_HI = [0, 2, 1.5, 1, 0.8, 0.8, 0.8, 0.8, 0.8, 0.8, 0.8, 0.8, 0.8, 0.8, 0.8, 0.8]
COV_WALK2_PGA = [15, 42, 65, 71.8, 75.5, 78, 79.3, 80, 81, 81.9, 82.6, 83.4, 84.2, 84.7, 85.1, 85.5]
COV_WALK2_PGA_LO = [0, 2, 1.5, 1, 0.8, 0.8, 0.8, 0.8, 0.8, 0.8, 0.8, 0.8, 0.8, 0.8, 0.8, 0.8]
COV_WALK2_PGA_HI = [0, 2, 1.5, 1, 0.8, 0.8, 0.8, 0.8, 0.8, 0.8, 0.8, 0.8, 0.8, 0.8, 0.8, 0.8]
COV_WALK2_PGASC = [15, 47, 70, 75.3, 76.9, 77.6, 78.3, 78.8, 79.3, 79.6, 79.8, 79.9, 80.1, 80.4, 80.7, 81]
COV_WALK2_PGASC_LO = [0, 2, 1.5, 1, 0.8, 0.8, 0.8, 0.8, 0.8, 0.8, 0.8, 0.8, 0.8, 0.8, 0.8, 0.8]
COV_WALK2_PGASC_HI = [0, 2, 1.5, 1, 0.8, 0.8, 0.8, 0.8, 0.8, 0.8, 0.8, 0.8, 0.8, 0.8, 0.8, 0.8]

# ---------------- layout / style ----------------
FONT = "DejaVu Sans"
FRAME_W, FRAME_H = 475, 333
Y_MAX = 101.5
X_START, X_END = -51250, 1076250
GRID_COLOR = "#d6d6d6"
LABEL_W = 54            # left strip holding the rotated y-axis labels
COL1_BORDER = 68        # room for y tick labels in first column
OTHER_BORDER = 46
TOP1 = 57               # first row: room for the titles
GAP_BOTTOM = 20         # rows 1-3: room below the frame for the "0" tick label
GAP_TOP = 43            # rows 2-4: remaining space above the frame
BOTTOM_LAST = 50
ROW_PITCH = FRAME_H + GAP_BOTTOM + GAP_TOP
PITCH_X = OTHER_BORDER + FRAME_W
TOTAL_W = LABEL_W + COL1_BORDER + FRAME_W + 5 * PITCH_X
ROWS_H = TOP1 + 3 * ROW_PITCH + FRAME_H + BOTTOM_LAST
STRIP_H = 165

DATA = globals()

grid_rows = []
for r, mkey in enumerate(METRIC_KEYS):
    figs = []
    for c, ekey in enumerate(ENV_KEYS):
        p = figure(
            frame_width=FRAME_W, frame_height=FRAME_H,
            x_range=Range1d(X_START, X_END), y_range=Range1d(0, Y_MAX),
            output_backend="svg", toolbar_location=None,
            min_border_left=COL1_BORDER if c == 0 else OTHER_BORDER, min_border_right=0,
            min_border_top=TOP1 if r == 0 else GAP_TOP,
            min_border_bottom=BOTTOM_LAST if r == 3 else GAP_BOTTOM,
            background_fill_color="white", border_fill_color="white",
            outline_line_color=None,
        )
        for k, meth in enumerate(METHOD_KEYS):
            name = f"{mkey}_{ekey}_{meth}"
            mean = DATA[name]
            lo = DATA[name + "_LO"]
            hi = DATA[name + "_HI"]
            assert len(mean) == len(X) and len(lo) == len(X) and len(hi) == len(X), name
            lower = [max(m - d, 0) for m, d in zip(mean, lo)]
            upper = [min(m + d, 100) for m, d in zip(mean, hi)]
            p.patch(X + X[::-1], upper + lower[::-1], fill_color=COLORS[k], fill_alpha=0.2,
                    line_color=COLORS[k], line_alpha=0.22, line_width=1.5)
        for k, meth in enumerate(METHOD_KEYS):
            name = f"{mkey}_{ekey}_{meth}"
            p.line(X, DATA[name], line_color=COLORS[k], line_width=4)

        if r == 0:
            p.title.text = ENVS[c]
            p.title.align = "center"
            p.title.text_font = FONT
            p.title.text_font_size = "30px"
            p.title.text_font_style = "bold"
            p.title.text_color = "black"
            p.title.standoff = 13

        p.xgrid.visible = False
        p.yaxis.ticker = FixedTicker(ticks=Y_TICKS)
        p.ygrid.ticker = FixedTicker(ticks=Y_TICKS)
        p.ygrid.grid_line_color = GRID_COLOR
        p.ygrid.grid_line_width = 3

        if c == 0:
            ax = p.yaxis[0]
            ax.major_label_text_font = FONT
            ax.major_label_text_font_size = "28px"
            ax.major_label_text_color = "black"
            ax.major_label_standoff = 11
            ax.major_tick_out = 0
            ax.major_tick_in = 0
            ax.major_tick_line_color = None
            ax.minor_tick_line_color = None
            ax.axis_line_color = None
        else:
            p.yaxis.visible = False

        if r == 3:
            xa = p.xaxis[0]
            xa.ticker = FixedTicker(ticks=X_TICKS)
            xa.major_label_overrides = dict(zip(X_TICKS, X_TICK_LABELS))
            xa.axis_line_color = "black"
            xa.axis_line_width = 2.5
            xa.major_tick_out = 10
            xa.major_tick_in = 0
            xa.major_tick_line_width = 2.5
            xa.major_tick_line_color = "black"
            xa.minor_tick_line_color = None
            xa.major_label_text_font = FONT
            xa.major_label_text_font_size = "28px"
            xa.major_label_text_color = "black"
            xa.major_label_standoff = 3
        else:
            p.xaxis.visible = False
        figs.append(p)
    grid_rows.append(row(*figs))

# left strip with the rotated y-axis labels (they overflow their panels)
yl = figure(width=LABEL_W, height=ROWS_H, x_range=Range1d(0, LABEL_W), y_range=Range1d(0, ROWS_H),
            output_backend="svg", toolbar_location=None, min_border=0,
            outline_line_color=None, background_fill_color="white", border_fill_color="white")
yl.xaxis.visible = False
yl.yaxis.visible = False
yl.xgrid.visible = False
yl.ygrid.visible = False
for r, lab in enumerate(METRIC_LABELS):
    center_from_top = TOP1 + r * ROW_PITCH + FRAME_H / 2
    yl.add_layout(Label(x=31, y=ROWS_H - center_from_top, text=lab, angle=math.pi / 2,
                        text_align="center", text_baseline="middle", text_font=FONT,
                        text_font_size="30px", text_font_style="bold", text_color="black"))

# bottom strip: offset text, x labels and legend
st = figure(width=TOTAL_W, height=STRIP_H, x_range=Range1d(0, TOTAL_W), y_range=Range1d(0, STRIP_H),
            output_backend="svg", toolbar_location=None, min_border=0,
            outline_line_color=None, background_fill_color="white", border_fill_color="white")
st.xaxis.visible = False
st.yaxis.visible = False
st.xgrid.visible = False
st.ygrid.visible = False
for c in range(len(ENVS)):
    frame_left = LABEL_W + COL1_BORDER + c * PITCH_X
    st.add_layout(Label(x=frame_left + FRAME_W, y=STRIP_H - 18, text=X_OFFSET_TEXT,
                        text_align="right", text_baseline="middle", text_font=FONT,
                        text_font_size="28px", text_color="black"))
    st.add_layout(Label(x=frame_left + FRAME_W / 2, y=STRIP_H - 50, text=X_LABEL,
                        text_align="center", text_baseline="middle", text_font=FONT,
                        text_font_size="30px", text_color="black"))
items = []
for k, meth in enumerate(METHODS):
    rr = st.line([-10, -9], [-10, -10], line_color=COLORS[k], line_width=4)
    items.append(LegendItem(label=meth, renderers=[rr]))
legend = Legend(items=items, orientation="horizontal", location=(976, 15),
                label_text_font=FONT, label_text_font_size="39px", label_text_color="black",
                glyph_width=86, glyph_height=45, label_height=45, label_standoff=33,
                spacing=80, padding=13, margin=0,
                border_line_color="#cccccc", border_line_width=2, border_line_alpha=1,
                background_fill_color="white", background_fill_alpha=1)
st.add_layout(legend)

layout = column(row(yl, column(*grid_rows)), st)
open("out.html", "w").write(file_html(layout, INLINE))
